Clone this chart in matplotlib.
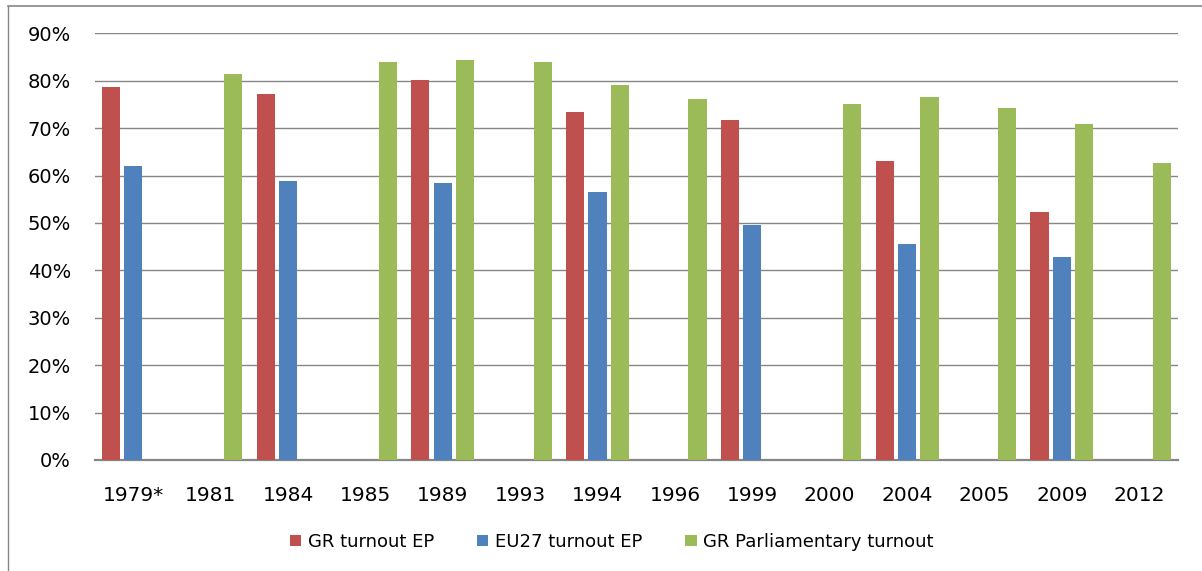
import matplotlib.pyplot as plt
import numpy as np
from matplotlib.lines import Line2D
from matplotlib.patches import Patch

years = ['1979*', '1981', '1984', '1985', '1989', '1993', '1994',
         '1996', '1999', '2000', '2004', '2005', '2009', '2012']
gr_ep = [78.7, np.nan, 77.2, np.nan, 80.2, np.nan, 73.4,
         np.nan, 71.7, np.nan, 63.1, np.nan, 52.3, np.nan]
eu27_ep = [62.0, np.nan, 58.9, np.nan, 58.4, np.nan, 56.5,
           np.nan, 49.6, np.nan, 45.6, np.nan, 42.8, np.nan]
gr_parl = [np.nan, 81.4, np.nan, 84.0, 84.4, 84.0, 79.1,
           76.2, np.nan, 75.1, 76.6, 74.3, 70.9, 62.7]

series = ['GR turnout EP', 'EU27 turnout EP', 'GR Parliamentary turnout']
colors = ['#C0504D', '#4F81BD', '#9BBB59']
grid_col = '#868686'

fig = plt.figure(figsize=(12.02, 5.71), dpi=100)
ax = fig.add_axes([0.0787, 0.1944, 0.9013, 0.7473])

x = np.arange(len(years))
step = 0.29
width = 0.235
for i, vals in enumerate([gr_ep, eu27_ep, gr_parl]):
    v = np.array(vals) / 100
    ax.bar(x + (i - 1) * step, np.nan_to_num(v), width, color=colors[i],
           zorder=3)

ax.set_xlim(-0.5, len(years) - 0.5)
ax.set_ylim(0, 0.9)
ax.set_yticks(np.arange(0, 0.91, 0.1))
ax.set_yticklabels([f'{int(round(t * 100))}%' for t in np.arange(0, 0.91, 0.1)])
ax.set_xticks(x)
ax.set_xticklabels(years)
ax.tick_params(axis='both', length=0, labelsize=14, colors='black')
ax.tick_params(axis='x', labelsize=14.5, pad=19)
ax.tick_params(axis='y', pad=17)
ax.yaxis.grid(True, color=grid_col, linewidth=1.0, zorder=0)
ax.set_axisbelow(True)
for s in ['top', 'right', 'left']:
    ax.spines[s].set_visible(False)
ax.spines['bottom'].set_color(grid_col)
ax.spines['bottom'].set_linewidth(1.6)

# chart area border (left and top visible)
fig.add_artist(Line2D([8 / 1202, 8 / 1202], [0, 1 - 6 / 571],
                      transform=fig.transFigure, color=grid_col, lw=1))
fig.add_artist(Line2D([8 / 1202, 1], [1 - 6 / 571, 1 - 6 / 571],
                      transform=fig.transFigure, color=grid_col, lw=1.2))

handles = [Patch(facecolor=c, edgecolor='none') for c in colors]
fig.legend(handles, series, loc='center', bbox_to_anchor=(0.509, 0.051),
           ncol=3, frameon=False, fontsize=13, handlelength=0.62,
           handleheight=0.62, handletextpad=0.35, columnspacing=2.4)

fig.savefig('out.png', dpi=100)
plt.close(fig)
